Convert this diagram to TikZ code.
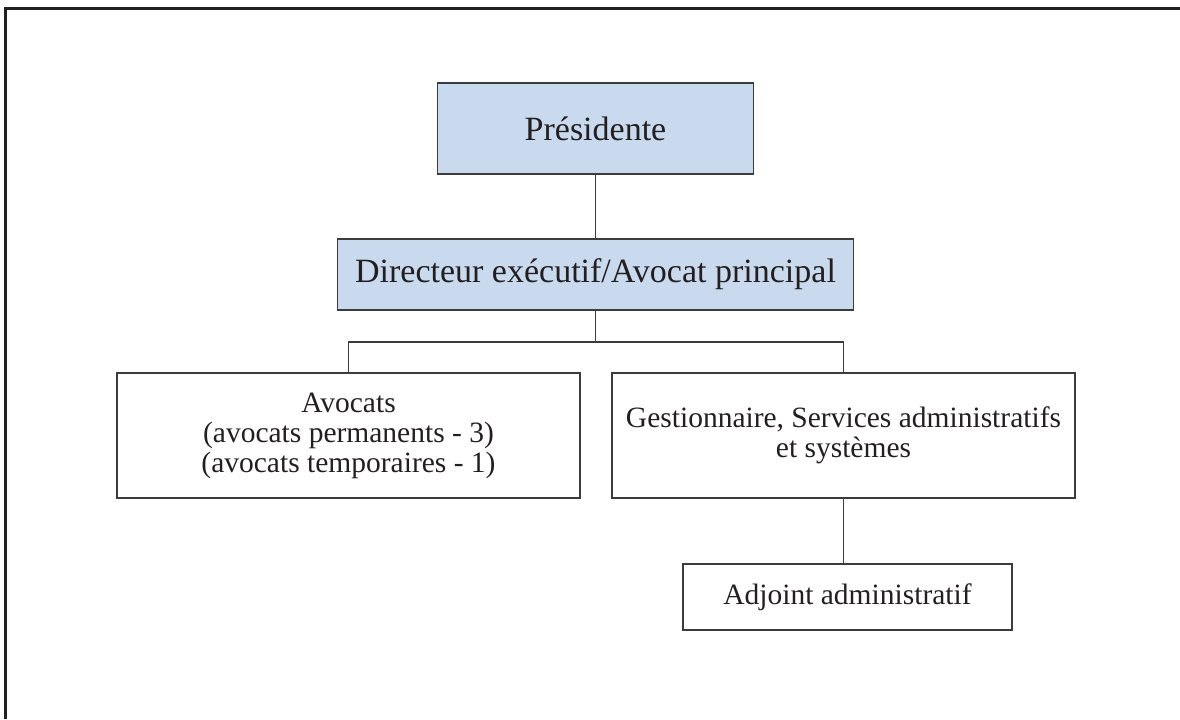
\documentclass[tikz,border=0pt]{standalone}
\usepackage{fontspec}
\setmainfont{Liberation Serif}
\definecolor{boxblue}{RGB}{201,217,238}
\definecolor{edge}{RGB}{60,60,60}
\definecolor{ink}{RGB}{35,31,32}
\begin{document}
\begin{tikzpicture}[x=0.5pt,y=-0.5pt,
  box/.style={draw=edge,line width=0.6pt,text=ink,align=center,inner sep=0pt,anchor=center},
  bigtext/.style={font=\fontsize{17}{20}\selectfont},
  smalltext/.style={font=\fontsize{14.75}{15}\selectfont},
  link/.style={draw=edge,line width=0.55pt}]
\useasboundingbox (0,0) rectangle (1180,719);
% frame (top and left edges)
\draw[draw=ink,line width=1.5pt] (5.5,719) -- (5.5,8) -- (1180,8);
\node[box,bigtext,fill=boxblue,minimum width=158pt,minimum height=45.5pt] (pres) at (595.5,128.5) {Présidente};
\node[box,bigtext,fill=boxblue,minimum width=258pt,minimum height=35.5pt] (dir) at (595.5,274.5) {Directeur exécutif/Avocat principal};
\node[box,smalltext,minimum width=231.5pt,minimum height=62.5pt] (avo) at (348.5,435.5) {Avocats\\(avocats permanents - 3)\\(avocats temporaires - 1)};
\node[box,smalltext,minimum width=231.5pt,minimum height=62.5pt] (gest) at (843.5,435.5) {Gestionnaire, Services administratifs\\et systèmes};
\node[box,smalltext,minimum width=164.5pt,minimum height=33pt] (adj) at (847.5,597) {Adjoint administratif};
\coordinate (j) at (595.5,342);
\draw[link] (pres.south) -- (dir.north);
\draw[link] (dir.south) -- (j);
\draw[link] (avo.north) |- (j) -| (gest.north);
\draw[link] (gest.south) -- (gest.south |- adj.north);
\end{tikzpicture}
\end{document}
